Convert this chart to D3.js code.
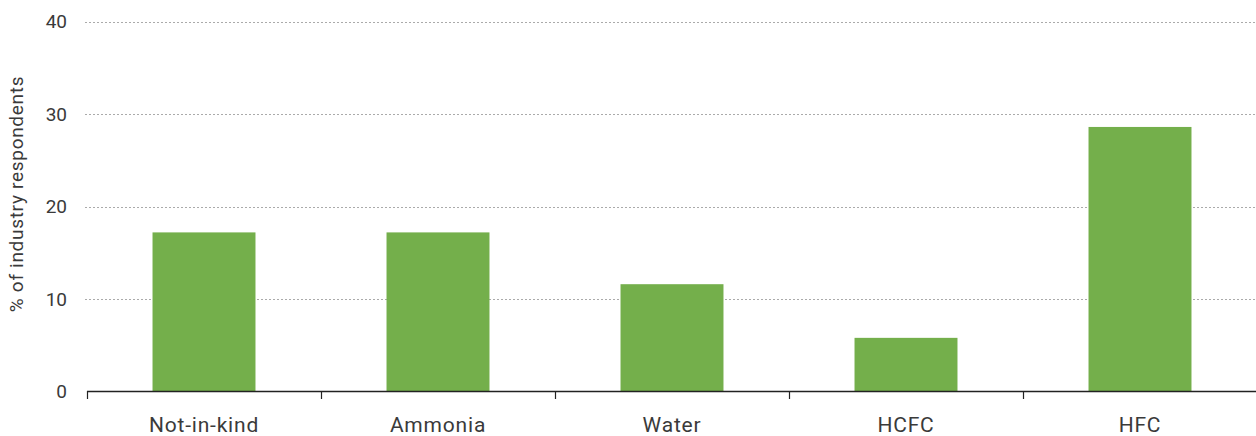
<!DOCTYPE html>
<html>
<head>
<meta charset="utf-8">
<script src="https://cdn.jsdelivr.net/npm/d3@7"></script>
<style>
  html, body { margin: 0; padding: 0; background: #fff; }
  svg { display: block; }
  text { font-family: Roboto, "DejaVu Sans", sans-serif; fill: #3a3a3a; font-weight: 400; }
</style>
</head>
<body>
<svg id="chart" width="1256" height="436"></svg>
<script>
const categories = ["Not-in-kind", "Ammonia", "Water", "HCFC", "HFC"];
const values = [17.2, 17.2, 11.6, 5.8, 28.6];
const yTicks = [0, 10, 20, 30, 40];
const yTitle = "% of industry respondents";

(function () {
const svg = d3.select("#chart");
const mLeft = 87, mRight = 1257, mTop = 21.5, mBottom = 391.5;

const x = d3.scaleBand().domain(categories).range([mLeft, mRight])
  .paddingInner(0.56).paddingOuter(0.28);
const y = d3.scaleLinear().domain([0, 40]).range([mBottom, mTop]);
const step = x.step();

// gridlines
svg.append("g").selectAll("line").data(yTicks.filter(d => d > 0)).join("line")
  .attr("x1", 85).attr("x2", 1256)
  .attr("y1", d => Math.round(y(d)) + 0.5).attr("y2", d => Math.round(y(d)) + 0.5)
  .attr("stroke", "#aaa").attr("stroke-width", 1).attr("stroke-dasharray", "2,2");

// y labels
svg.append("g").selectAll("text").data(yTicks).join("text")
  .attr("x", 67).attr("y", d => y(d))
  .attr("dy", "0.35em").attr("text-anchor", "end")
  .attr("font-size", 19).text(d => d);

// bars
svg.append("g").selectAll("rect").data(values).join("rect")
  .attr("x", (d, i) => x(categories[i]))
  .attr("width", x.bandwidth())
  .attr("y", d => y(d))
  .attr("height", d => y(0) - y(d))
  .attr("fill", "#74AF4B");

// x axis line
svg.append("line").attr("x1", 87).attr("x2", 1256)
  .attr("y1", 391.5).attr("y2", 391.5)
  .attr("stroke", "#222").attr("stroke-width", 1.5);

// ticks at band boundaries
svg.append("g").selectAll("line").data(categories).join("line")
  .attr("x1", d => Math.round(x(d) - step * 0.28) + 0.5)
  .attr("x2", d => Math.round(x(d) - step * 0.28) + 0.5)
  .attr("y1", 391).attr("y2", 399)
  .attr("stroke", "#222").attr("stroke-width", 1.2);

// x labels
svg.append("g").selectAll("text").data(categories).join("text")
  .attr("x", d => x(d) + x.bandwidth() / 2)
  .attr("y", 432)
  .attr("text-anchor", "middle")
  .attr("letter-spacing", 0.8)
  .attr("font-size", 21).text(d => d);

// y title
svg.append("text")
  .attr("transform", "translate(23,194) rotate(-90)")
  .attr("text-anchor", "middle")
  .attr("letter-spacing", 0.7)
  .attr("font-size", 19).text(yTitle);
})();
</script>
</body>
</html>
